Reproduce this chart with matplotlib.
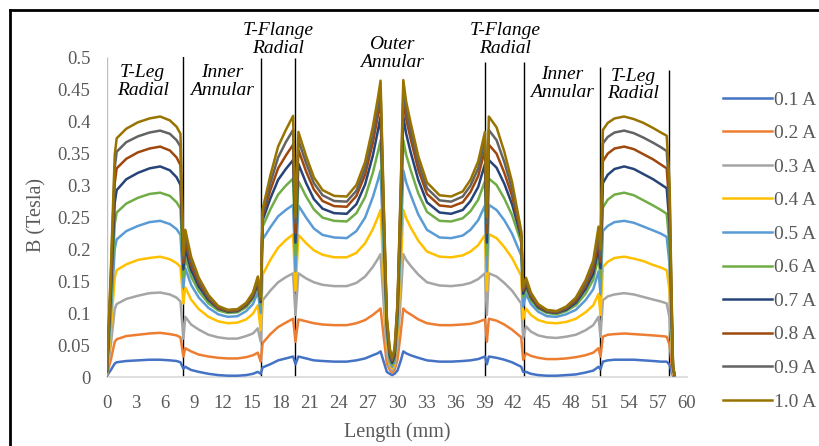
import matplotlib
matplotlib.use("Agg")
import matplotlib.pyplot as plt
from matplotlib.lines import Line2D

plt.rcParams['font.family'] = ['Liberation Serif', 'DejaVu Serif']

# sample positions along the path (mm)
length_mm = [0.0, 0.4, 0.8, 1.0, 2.0, 3.2, 4.4, 5.5, 6.5, 7.2, 7.6,
             7.9,
             8.1, 8.7, 9.5, 10.5, 11.5, 12.5, 13.5, 14.4, 15.1, 15.6,
             15.9,
             16.1, 16.9, 17.7, 18.5, 19.25,
             19.5,
             19.8, 20.6, 21.4, 22.3, 23.5, 24.8, 25.8, 26.7, 27.5, 28.0, 28.3,
             28.6, 28.95, 29.25, 29.5, 29.75, 30.05, 30.4,
             30.65, 30.95, 31.4, 32.2, 33.1, 34.4, 35.6, 36.8, 37.6, 38.4, 39.1,
             39.3,
             39.5, 40.3, 41.1, 41.9, 42.85,
             43.05,
             43.35, 43.85, 44.6, 45.5, 46.5, 47.5, 48.5, 49.5, 50.3, 50.85,
             51.05,
             51.3, 51.8, 52.5, 53.5, 54.5, 55.5, 56.5, 57.3, 57.9, 58.2, 58.4, 58.55, 58.7]

# flux density (Tesla) for each current
b_01 = [.002, .011, .021, .023, .025, .026, .027, .027, .026, .025, .023,
        .013,
        .016, .011, .008, .005, .003, .002, .002, .003, .005, .008,
        .005,
        .015, .020, .026, .029, .032,
        .020,
        .032, .029, .026, .025, .024, .024, .026, .029, .034, .037, .040,
        .025, .008, .005, .003, .005, .010, .026,
        .040, .037, .034, .030, .026, .024, .024, .025, .026, .028, .032,
        .020,
        .032, .030, .027, .023, .016,
        .008,
        .008, .005, .003, .002, .002, .003, .004, .007, .010, .016,
        .012,
        .024, .026, .027, .027, .027, .026, .025, .024, .024, .019, .008, .002, .001]

b_02 = [.004, .027, .055, .059, .064, .066, .068, .069, .067, .065, .062,
        .032,
        .045, .040, .035, .032, .030, .029, .029, .031, .034, .038,
        .024,
        .053, .067, .078, .085, .091,
        .055,
        .090, .087, .084, .082, .081, .081, .084, .089, .097, .103, .107,
        .066, .021, .011, .007, .011, .027, .071,
        .107, .102, .098, .090, .084, .081, .081, .082, .083, .086, .090,
        .055,
        .091, .088, .082, .074, .062,
        .027,
        .037, .033, .030, .028, .028, .029, .031, .034, .038, .045,
        .032,
        .063, .066, .067, .068, .067, .066, .065, .064, .063, .050, .022, .003, .001]

b_03 = [.005, .051, .106, .114, .122, .127, .131, .132, .129, .124, .118,
        .060,
        .094, .082, .074, .066, .062, .060, .060, .064, .068, .076,
        .055,
        .120, .135, .148, .156, .162,
        .097,
        .162, .154, .148, .144, .142, .142, .147, .157, .172, .184, .192,
        .119, .038, .015, .010, .015, .048, .127,
        .192, .183, .174, .160, .148, .143, .142, .144, .147, .153, .162,
        .097,
        .162, .157, .147, .135, .115,
        .061,
        .079, .071, .065, .062, .061, .063, .066, .073, .081, .094,
        .063,
        .120, .126, .129, .131, .129, .125, .121, .118, .115, .092, .040, .006, .002]

b_04 = [.006, .075, .155, .167, .176, .183, .186, .188, .184, .178, .172,
        .115,
        .140, .121, .106, .094, .087, .084, .085, .090, .099, .112,
        .073,
        .160, .183, .202, .214, .223,
        .135,
        .222, .209, .198, .191, .187, .187, .194, .209, .231, .249, .261,
        .162, .052, .020, .013, .020, .065, .172,
        .261, .248, .234, .213, .196, .188, .187, .190, .196, .206, .222,
        .135,
        .223, .217, .203, .186, .158,
        .090,
        .107, .097, .089, .085, .084, .086, .091, .101, .112, .130,
        .097,
        .172, .180, .186, .188, .185, .181, .175, .171, .167, .134, .058, .008, .002]

b_05 = [.007, .097, .200, .215, .228, .236, .242, .244, .239, .231, .222,
        .140,
        .170, .144, .124, .108, .098, .094, .095, .103, .114, .133,
        .100,
        .215, .234, .251, .261, .269,
        .165,
        .268, .249, .232, .222, .218, .217, .228, .249, .281, .306, .323,
        .200, .065, .024, .016, .024, .081, .213,
        .323, .304, .285, .254, .230, .218, .217, .221, .230, .245, .268,
        .165,
        .269, .261, .245, .224, .190,
        .110,
        .130, .114, .102, .095, .094, .098, .105, .120, .137, .165,
        .130,
        .228, .236, .242, .244, .241, .235, .229, .224, .219, .175, .077, .011, .003]

b_06 = [.008, .116, .239, .257, .271, .280, .286, .288, .283, .273, .263,
        .156,
        .186, .157, .134, .115, .104, .100, .101, .109, .122, .142,
        .113,
        .235, .262, .285, .299, .310,
        .190,
        .306, .282, .262, .249, .244, .243, .256, .281, .319, .350, .370,
        .229, .074, .029, .019, .029, .093, .244,
        .370, .347, .324, .287, .258, .244, .243, .248, .259, .277, .306,
        .190,
        .310, .300, .279, .253, .210,
        .125,
        .138, .120, .107, .100, .098, .103, .112, .130, .152, .188,
        .155,
        .265, .277, .285, .288, .284, .276, .268, .261, .255, .204, .089, .013, .003]

b_07 = [.009, .131, .272, .292, .309, .319, .326, .329, .323, .312, .300,
        .168,
        .200, .167, .141, .120, .107, .102, .103, .112, .125, .146,
        .117,
        .245, .279, .308, .325, .339,
        .210,
        .333, .303, .278, .263, .256, .255, .270, .301, .346, .383, .407,
        .252, .081, .033, .022, .033, .102, .269,
        .407, .380, .352, .308, .273, .257, .255, .261, .275, .297, .333,
        .210,
        .339, .327, .302, .270, .218,
        .130,
        .143, .124, .109, .102, .100, .105, .116, .137, .161, .202,
        .170,
        .303, .316, .325, .329, .325, .317, .309, .301, .295, .236, .103, .015, .003]

b_08 = [.010, .147, .303, .326, .341, .351, .357, .360, .354, .343, .331,
        .178,
        .212, .175, .147, .123, .108, .103, .104, .113, .127, .150,
        .120,
        .252, .292, .326, .346, .363,
        .225,
        .355, .321, .293, .275, .267, .266, .283, .316, .366, .406, .433,
        .268, .087, .038, .025, .038, .108, .286,
        .433, .403, .373, .324, .286, .268, .266, .273, .289, .314, .355,
        .225,
        .363, .349, .319, .283, .222,
        .135,
        .147, .126, .111, .103, .101, .107, .119, .142, .169, .214,
        .180,
        .337, .349, .357, .360, .356, .348, .340, .332, .326, .261, .114, .016, .004]

b_09 = [.011, .158, .327, .352, .367, .376, .382, .385, .380, .370, .360,
        .185,
        .222, .182, .151, .125, .110, .104, .105, .115, .129, .153,
        .122,
        .257, .303, .343, .367, .386,
        .240,
        .370, .334, .303, .284, .275, .274, .291, .326, .378, .420, .448,
        .278, .090, .041, .027, .041, .112, .296,
        .448, .417, .385, .335, .295, .276, .274, .282, .299, .326, .370,
        .240,
        .386, .370, .336, .294, .225,
        .138,
        .151, .129, .113, .104, .102, .108, .122, .146, .176, .225,
        .190,
        .365, .375, .382, .385, .381, .374, .366, .359, .353, .282, .124, .018, .004]

b_10 = [.012, .168, .347, .373, .388, .398, .404, .407, .401, .391, .380,
        .190,
        .230, .188, .155, .128, .111, .105, .106, .116, .132, .157,
        .125,
        .262, .315, .360, .386, .408,
        .250,
        .383, .345, .312, .292, .283, .282, .300, .336, .391, .434, .463,
        .287, .093, .045, .030, .045, .116, .306,
        .464, .430, .398, .345, .304, .284, .282, .290, .308, .337, .383,
        .250,
        .407, .390, .352, .305, .228,
        .140,
        .155, .132, .114, .105, .103, .110, .124, .151, .182, .235,
        .200,
        .386, .397, .404, .407, .403, .397, .389, .382, .377, .302, .132, .019, .004]

series = [b_01, b_02, b_03, b_04, b_05, b_06, b_07, b_08, b_09, b_10]
labels = ['0.1 A', '0.2 A', '0.3 A', '0.4 A', '0.5 A',
          '0.6 A', '0.7 A', '0.8 A', '0.9 A', '1.0 A']
colors = ['#4472C4', '#ED7D31', '#A5A5A5', '#FFC000', '#5B9BD5',
          '#70AD47', '#264478', '#9E480E', '#636363', '#997300']

# region boundaries and their top ends
boundary_x = [7.86, 15.9, 19.5, 39.1, 43.1, 51.0, 58.1]
boundary_top = [0.503, 0.498, 0.498, 0.492, 0.492, 0.484, 0.480]

region_names = ['T-Leg\nRadial', 'Inner\nAnnular', 'T-Flange\nRadial', 'Outer\nAnnular',
                'T-Flange\nRadial', 'Inner\nAnnular', 'T-Leg\nRadial']
region_x = [3.7, 11.9, 17.7, 29.5, 41.2, 47.1, 54.4]
region_y = [0.462, 0.462, 0.527, 0.505, 0.527, 0.459, 0.456]

grey = '#595959'

fig = plt.figure(figsize=(8.2, 4.46), dpi=100)
ax = fig.add_axes([107 / 820, 69 / 446, 580 / 820, 320 / 446])

for y, lab, c in zip(series, labels, colors):
    ax.plot(length_mm, y, color=c, lw=1.8, label=lab, zorder=3,
            solid_joinstyle='round')

ax.vlines([0], 0, 0.5, color='#BFBFBF', lw=1, zorder=1)
ax.vlines(boundary_x, 0, boundary_top, color='black', lw=1, zorder=2)

for name, xx, yy in zip(region_names, region_x, region_y):
    ax.text(xx, yy, name, ha='center', va='center', fontsize=14,
            style='italic', color='black', linespacing=1.05, clip_on=False)

ax.set_xlim(0, 60)
ax.set_ylim(0, 0.5)
ax.set_xticks(range(0, 61, 3))
ax.set_yticks([i * 0.05 for i in range(11)])
ax.set_yticklabels(['0', '0.05', '0.1', '0.15', '0.2', '0.25', '0.3',
                    '0.35', '0.4', '0.45', '0.5'])
ax.tick_params(axis='x', length=0, pad=13, labelsize=13.5, labelcolor=grey)
ax.tick_params(axis='y', length=0, pad=12, labelsize=13.5, labelcolor=grey)
for s in ['top', 'right', 'left']:
    ax.spines[s].set_visible(False)
ax.spines['bottom'].set_color('#D9D9D9')
ax.spines['bottom'].set_linewidth(1.2)

fig.text(37 / 820, 1 - 215 / 446, 'B (Tesla)', rotation=90, ha='center',
         va='center', fontsize=14.5, color=grey)
fig.text(397 / 820, 1 - 432 / 446, 'Length (mm)', ha='center', va='center',
         fontsize=14.5, color=grey)

ax.legend(loc='upper left', bbox_to_anchor=(723 / 820, 1 - 91 / 446),
          bbox_transform=fig.transFigure, frameon=False, fontsize=14,
          handlelength=2.5, handletextpad=0.1, labelspacing=0.82,
          borderpad=0, borderaxespad=0, labelcolor=grey)

# chart frame
fig.add_artist(Line2D([10 / 820, 1], [1 - 10 / 446, 1 - 10 / 446],
                      transform=fig.transFigure, color='black', lw=2))
fig.add_artist(Line2D([10 / 820, 10 / 820], [0, 1 - 10 / 446],
                      transform=fig.transFigure, color='black', lw=2))

fig.savefig('out.png', dpi=100)
